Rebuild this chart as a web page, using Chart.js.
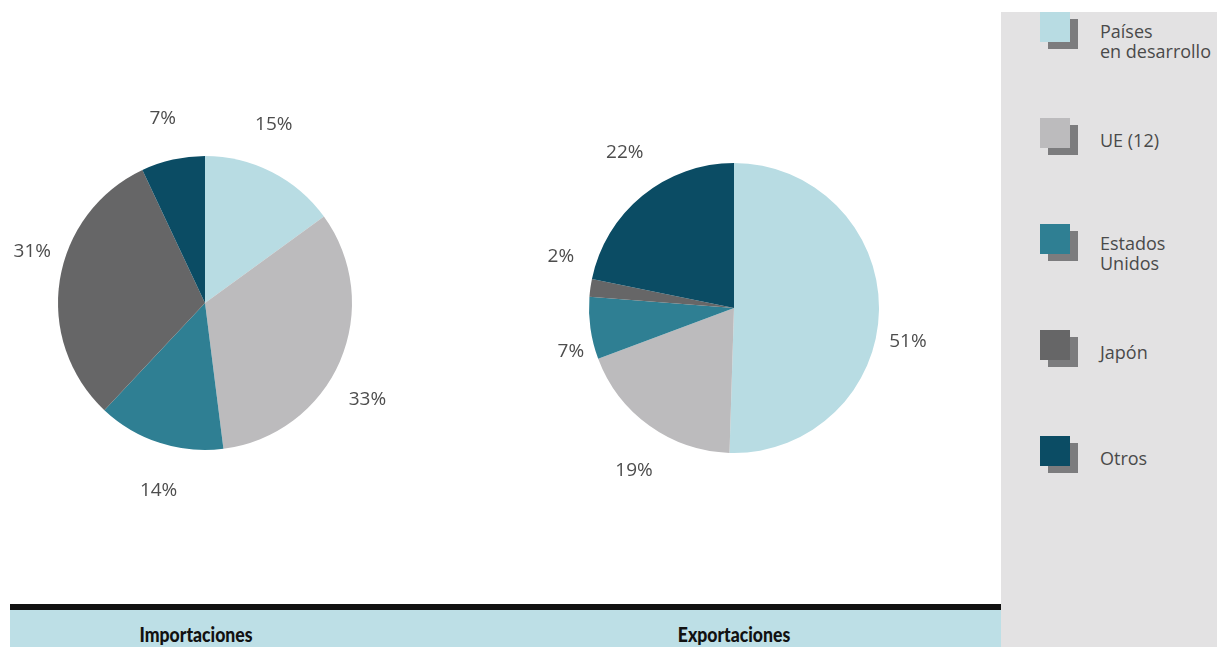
<!DOCTYPE html>
<html lang="es">
<head>
<meta charset="utf-8">
<title>Importaciones y exportaciones por origen y destino</title>
<script src="https://cdn.jsdelivr.net/npm/chart.js@4.4.1/dist/chart.umd.min.js"></script>
<style>
  html, body { margin: 0; padding: 0; }
  body {
    width: 1217px; height: 647px; position: relative; overflow: hidden;
    background: #ffffff; font-family: "Open Sans", Lato, sans-serif;
  }
  canvas { position: absolute; }
  #sidebar {
    position: absolute; left: 1001px; top: 12px; width: 216px; height: 635px;
    background: #e3e2e3;
  }
  .swatch, .shadow { position: absolute; width: 30px; height: 30px; }
  .shadow { background: #7c7c7e; }
  .legend-text {
    position: absolute; left: 99px; font-size: 18px; line-height: 20px;
    color: #4a4a4a; white-space: nowrap;
  }
  #rule {
    position: absolute; left: 10px; top: 604px; width: 991px; height: 6px; background: #111;
  }
  #band {
    position: absolute; left: 10px; top: 610px; width: 991px; height: 37px; background: #bddfe6;
  }
  .band-title {
    position: absolute; top: 623px; transform: translateX(-50%) scaleX(0.88);
    font-family: Lato, sans-serif;
    font-weight: 900; font-size: 20px; line-height: 22px; color: #111; white-space: nowrap;
  }
</style>
</head>
<body>
<canvas id="imports" width="480" height="480" style="left:-35px; top:63px;"></canvas>
<canvas id="exports" width="480" height="480" style="left:494px; top:68px;"></canvas>
<div id="sidebar"></div>
<div id="rule"></div>
<div id="band"></div>
<div class="band-title" id="t-imports" style="left:196px;"></div>
<div class="band-title" id="t-exports" style="left:734px;"></div>

<script>
// Regions, in drawing order (clockwise from 12 o'clock)
const categories = [['Países', 'en desarrollo'], ['UE (12)'], ['Estados', 'Unidos'], ['Japón'], ['Otros']];
// Share of trade, percent
const importShares = [15, 33, 14, 31, 7];
const exportShares = [51, 19, 7, 2, 22];
const panelTitles = ['Importaciones', 'Exportaciones'];
const regionColors = ['#b8dce3', '#bcbbbd', '#2f7f93', '#666667', '#0b4c64'];

// Percent labels just outside each slice, at the slice's mid angle,
// with a small per-label nudge so they sit clear of neighbours
const pctLabels = {
  id: 'pctLabels',
  afterDatasetsDraw(chart, args, opts) {
    const ctx = chart.ctx;
    const meta = chart.getDatasetMeta(0);
    const values = chart.data.datasets[0].data;
    const nudge = opts.nudge || [];
    ctx.save();
    ctx.font = opts.font;
    ctx.fillStyle = opts.color;
    ctx.textAlign = 'center';
    ctx.textBaseline = 'middle';
    meta.data.forEach((arc, i) => {
      const p = arc.getProps(['x', 'y', 'startAngle', 'endAngle', 'outerRadius'], true);
      const mid = (p.startAngle + p.endAngle) / 2;
      const r = p.outerRadius + opts.offset;
      const [dx, dy] = nudge[i] || [0, 0];
      ctx.fillText(values[i] + '%', p.x + Math.cos(mid) * r + dx, p.y + Math.sin(mid) * r + dy);
    });
    ctx.restore();
  }
};

function makePie(id, values, pad, nudge) {
  return new Chart(document.getElementById(id), {
    type: 'pie',
    data: {
      labels: categories,
      datasets: [{
        data: values,
        backgroundColor: regionColors,
        borderWidth: 0,
        hoverOffset: 0,
        offset: 0
      }]
    },
    options: {
      responsive: false,
      animation: false,
      events: [],
      layout: { padding: pad },
      plugins: {
        legend: { display: false },
        tooltip: { enabled: false },
        pctLabels: {
          font: '19px "Open Sans", Lato, sans-serif',
          color: '#4d4d4d',
          offset: 42,
          nudge: nudge
        }
      }
    },
    plugins: [pctLabels]
  });
}

makePie('imports', importShares, 93, [[-17, -10], [-11, 22], [12, 8], [14, -22], [-1, 0]]);
makePie('exports', exportShares, 95, [[-13, 31], [9, 11], [22, 18], [12, -25], [9, -11]]);

document.getElementById('t-imports').textContent = panelTitles[0];
document.getElementById('t-exports').textContent = panelTitles[1];

// Side legend: coloured square with a grey drop square, then the region name
const sidebar = document.getElementById('sidebar');
categories.forEach((lines, i) => {
  const top = i * 106;
  const shadow = document.createElement('div');
  shadow.className = 'shadow';
  shadow.style.left = '47px';
  shadow.style.top = (top + 7) + 'px';
  const sw = document.createElement('div');
  sw.className = 'swatch';
  sw.style.left = '39px';
  sw.style.top = top + 'px';
  sw.style.background = regionColors[i];
  const txt = document.createElement('div');
  txt.className = 'legend-text';
  txt.style.top = (top + (lines.length > 1 ? 9 : 12)) + 'px';
  txt.innerHTML = lines.join('<br>');
  sidebar.append(shadow, sw, txt);
});
</script>
</body>
</html>
